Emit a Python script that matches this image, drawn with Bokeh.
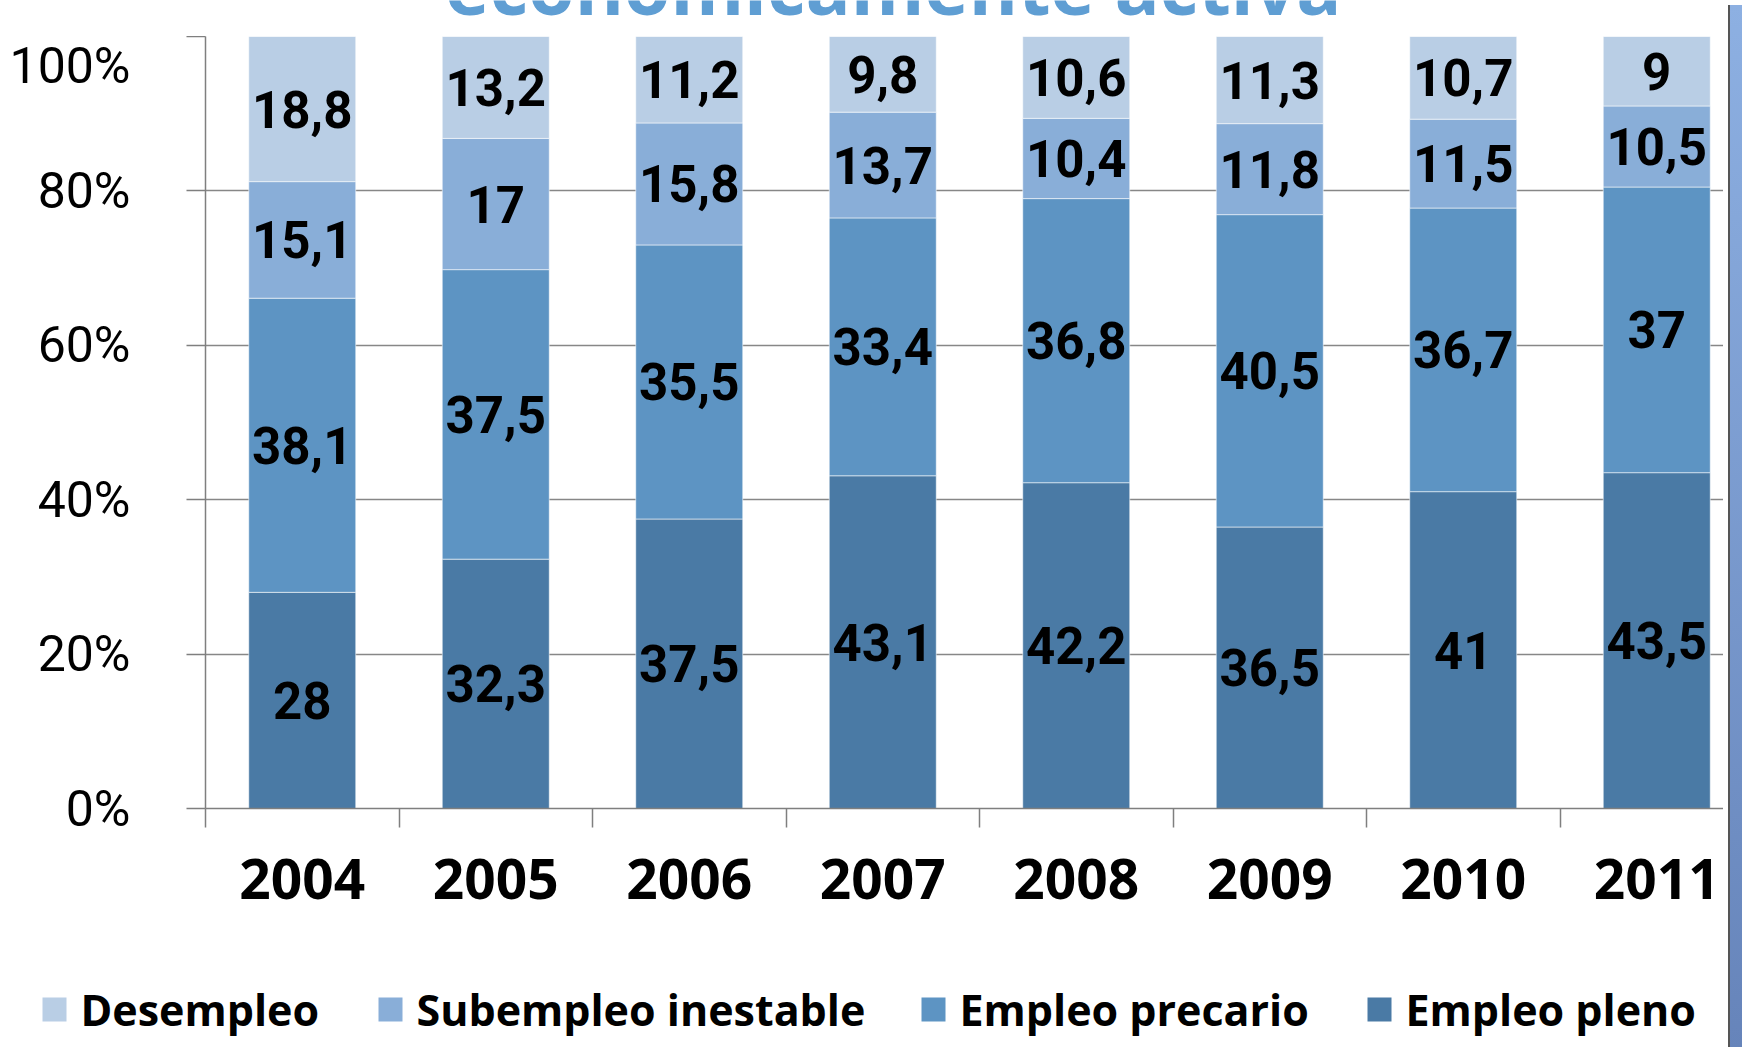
from bokeh.plotting import figure
from bokeh.models import ColumnDataSource, Range1d, FixedTicker, Div
from bokeh.layouts import row, column
from bokeh.core.properties import value
from bokeh.embed import file_html
from bokeh.resources import INLINE

years = ["2004", "2005", "2006", "2007", "2008", "2009", "2010", "2011"]
empleo_pleno = [28, 32.3, 37.5, 43.1, 42.2, 36.5, 41, 43.5]
empleo_precario = [38.1, 37.5, 35.5, 33.4, 36.8, 40.5, 36.7, 37]
subempleo_inestable = [15.1, 17, 15.8, 13.7, 10.4, 11.8, 11.5, 10.5]
desempleo = [18.8, 13.2, 11.2, 9.8, 10.6, 11.3, 10.7, 9]
y_ticks = [0, 20, 40, 60, 80, 100]
y_tick_labels = ["0%", "20%", "40%", "60%", "80%", "100%"]
title_text = "económicamente activa"

series_names = ["Empleo pleno", "Empleo precario", "Subempleo inestable", "Desempleo"]
series_values = [empleo_pleno, empleo_precario, subempleo_inestable, desempleo]
series_colors = ["#4A7AA5", "#5D94C3", "#89AED8", "#B9CEE5"]

legend_order = ["Desempleo", "Subempleo inestable", "Empleo precario", "Empleo pleno"]
legend_square_left = [42, 378, 921, 1367]   # layout positions (px)

DATA_FONT = "Roboto"
TEXT_FONT = "Open Sans"

W = 1723          # chart width (px)
H_TITLE = 36
H_MAIN = 904
H_LEG = 105
FRAME_L, FRAME_B = 205, 772
CAT_W = 193.5

n = len(years)
xs = [i + 0.5 for i in range(n)]
totals = [sum(v[i] for v in series_values) for i in range(n)]

# title strip (only the lower part of the title is visible, as in the source)
tf = figure(width=W, height=H_TITLE, output_backend="svg", toolbar_location=None,
            x_range=Range1d(0, W), y_range=Range1d(0, H_TITLE),
            x_axis_type=None, y_axis_type=None, min_border=0,
            outline_line_color=None, frame_align=False)
tf.grid.visible = False
tf.text(x=[893], y=[21], text=[title_text], text_align="center",
        text_baseline="alphabetic", y_offset=-30, text_font=value(TEXT_FONT),
        text_font_style="bold", text_font_size="75px", text_color="#5F9ED3")

p = figure(width=W, height=H_MAIN, output_backend="svg", toolbar_location=None,
           x_range=Range1d(0, (W - FRAME_L) / CAT_W), y_range=Range1d(0, 100),
           min_border_left=FRAME_L, min_border_top=0, min_border_right=0,
           min_border_bottom=H_MAIN - FRAME_B, outline_line_color=None,
           frame_align=False)
p.background_fill_color = "white"
p.border_fill_color = "white"

bottoms = [0.0] * n
for name, vals, color in zip(series_names, series_values, series_colors):
    pct = [vals[i] / totals[i] * 100 for i in range(n)]
    tops = [bottoms[i] + pct[i] for i in range(n)]
    src = ColumnDataSource(dict(
        x=xs, bottom=list(bottoms), top=tops,
        mid=[(bottoms[i] + tops[i]) / 2 for i in range(n)],
        lab=[f"{v:g}".replace(".", ",") for v in vals]))
    p.vbar(x="x", bottom="bottom", top="top", width=0.553, source=src,
           fill_color=color, line_color="white", line_alpha=0.55, line_width=1)
    p.text(x="x", y="mid", text="lab", source=src, text_align="center",
           text_baseline="middle", text_font=value(DATA_FONT), text_font_style="bold",
           text_font_size="51px", text_color="black")
    bottoms = tops

# y axis
ya = p.yaxis[0]
ya.ticker = FixedTicker(ticks=y_ticks)
ya.major_label_overrides = {t: l for t, l in zip(y_ticks, y_tick_labels)}
ya.major_tick_out = 19
ya.major_tick_in = 0
ya.minor_tick_out = 0
ya.minor_tick_in = 0
ya.axis_line_color = "#7F7F7F"
ya.axis_line_width = 1.5
ya.major_tick_line_color = "#7F7F7F"
ya.major_tick_line_width = 1.5
ya.major_label_standoff = 56
ya.major_label_text_font = DATA_FONT
ya.major_label_text_font_size = "50px"
ya.major_label_text_color = "black"

# x axis
xa = p.xaxis[0]
xa.ticker = FixedTicker(ticks=xs, minor_ticks=list(range(n + 1)))
xa.major_label_overrides = {x: y for x, y in zip(xs, years)}
xa.major_tick_out = 0
xa.major_tick_in = 0
xa.minor_tick_out = 19
xa.minor_tick_in = 0
xa.minor_tick_line_color = "#7F7F7F"
xa.minor_tick_line_width = 1.5
xa.axis_line_color = "#7F7F7F"
xa.axis_line_width = 1.5
xa.major_label_standoff = 31
xa.major_label_text_font = TEXT_FONT
xa.major_label_text_font_style = "bold"
xa.major_label_text_font_size = "55px"
xa.major_label_text_color = "black"

p.xgrid.visible = False
p.ygrid.ticker = FixedTicker(ticks=y_ticks)
p.ygrid.grid_line_color = "#878787"
p.ygrid.grid_line_width = 1.5
p.ygrid.level = "underlay"

# legend strip below the chart
leg = figure(width=W, height=H_LEG, output_backend="svg", toolbar_location=None,
             x_range=Range1d(0, W), y_range=Range1d(0, H_LEG),
             x_axis_type=None, y_axis_type=None, min_border=0,
             outline_line_color=None, frame_align=False)
leg.grid.visible = False
leg.background_fill_color = "white"
leg.border_fill_color = "white"
leg_colors = [series_colors[series_names.index(nm)] for nm in legend_order]
leg_src = ColumnDataSource(dict(
    sx=[x + 12 for x in legend_square_left],
    tx=[x + 38 for x in legend_square_left],
    y=[36] * len(legend_order), label=legend_order, color=leg_colors))
leg.rect(x="sx", y="y", width=24, height=24, source=leg_src,
         fill_color="color", line_color=None)
leg.text(x="tx", y="y", text="label", source=leg_src, text_align="left",
         text_baseline="middle", text_font=value(TEXT_FONT), text_font_style="bold",
         text_font_size="43px", text_color="black")

strip = Div(width=17, height=H_TITLE + H_MAIN + H_LEG,
            styles={"background": "linear-gradient(#8DB0E2, #6684BA)",
                    "border-left": "2px solid #555555", "box-sizing": "border-box"})

layout = row(column(tf, p, leg, spacing=0), strip, spacing=0)
open("out.html", "w").write(file_html(layout, INLINE))
